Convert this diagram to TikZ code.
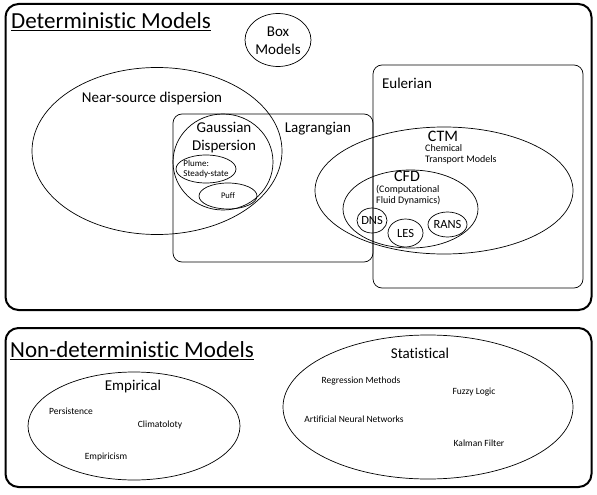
\documentclass[tikz,border=0pt]{standalone}
\usepackage{fontspec}
\setmainfont{Carlito}[Ligatures=NoCommon]
\usetikzlibrary{shapes.geometric}
\begin{document}
\begin{tikzpicture}[x=1pt,y=-1pt,
  ell/.style={draw, ellipse, inner sep=0pt, line width=0.7pt},
  rbox/.style={draw, rectangle, rounded corners=9pt, inner sep=0pt, line width=0.7pt},
  outerbox/.style={draw, rectangle, rounded corners=13pt, inner sep=0pt, line width=2pt},
  lbl/.style={inner sep=0pt, font=\fontsize{15}{18}\selectfont},
  big/.style={inner sep=0pt, font=\fontsize{23}{27}\selectfont},
  sm/.style={inner sep=0pt, font=\fontsize{9.5}{11}\selectfont},
  mid/.style={inner sep=0pt, font=\fontsize{10}{11}\selectfont, align=left},
  inner/.style={inner sep=0pt, font=\fontsize{12.5}{14}\selectfont},
  head/.style={inner sep=0pt, font=\fontsize{16}{18}\selectfont}
]
\useasboundingbox (0,0) rectangle (597,495);
% outer boxes
\node[outerbox, minimum width=586pt, minimum height=306pt] (det) at (298.5,157) {};
\node[outerbox, minimum width=586pt, minimum height=159pt] (nondet) at (298.5,407.5) {};
\node[big, anchor=west] (dett) at (11,22) {\underline{Deterministic Models}};
\node[big, anchor=west] (ndett) at (10,351) {\underline{Non-deterministic Models}};
% Box models
\node[ell, minimum width=66pt, minimum height=53pt] (box) at (278,40) {};
\node[lbl, align=center] (boxt) at (278,41) {Box\\[0pt]Models};
% Near-source
\node[ell, minimum width=250pt, minimum height=167pt] (near) at (157,151) {};
\node[lbl] (neart) at (152,99) {Near-source dispersion};
% Lagrangian
\node[rbox, minimum width=200pt, minimum height=148pt] (lag) at (273,188) {};
\node[lbl] (lagt) at (318,129) {Lagrangian};
% Eulerian
\node[rbox, minimum width=210pt, minimum height=223pt] (eul) at (478,176.5) {};
\node[lbl] (eult) at (407,83) {Eulerian};
% Gaussian
\node[ell, minimum width=100pt, minimum height=96pt] (gauss) at (223,162) {};
\node[lbl, align=center] (gausst) at (224,138) {Gaussian\\[0pt]Dispersion};
\node[ell, minimum width=60pt, minimum height=28pt] (plume) at (206,169) {};
\node[sm, align=left, font=\fontsize{9}{10}\selectfont] (plumet) at (206,169) {Plume:\\Steady-state};
\node[ell, minimum width=58pt, minimum height=26pt] (puff) at (228,196) {};
\node[sm, font=\fontsize{8.5}{10}\selectfont] (pufft) at (228,196) {Puff};
% CTM
\node[ell, minimum width=258pt, minimum height=127pt] (ctm) at (444,190.5) {};
\node[head] (ctmt) at (443,136) {CTM};
\node[mid, anchor=north west] (ctmd) at (425,144.5) {Chemical\\Transport Models};
% CFD
\node[ell, minimum width=135pt, minimum height=78pt] (cfd) at (410.5,209) {};
\node[head] (cfdt) at (407,176.5) {CFD};
\node[mid, anchor=north west] (cfdd) at (376,184.5) {(Computational\\Fluid Dynamics)};
\node[ell, minimum width=30pt, minimum height=25pt] (dns) at (372,220.5) {};
\node[inner] (dnst) at (372,220.5) {DNS};
\node[ell, minimum width=35pt, minimum height=28pt] (les) at (405.5,233) {};
\node[inner] (lest) at (405.5,233) {LES};
\node[ell, minimum width=39pt, minimum height=25pt] (rans) at (447.5,224.5) {};
\node[inner] (ranst) at (447.5,224.5) {RANS};
% Empirical
\node[ell, minimum width=212pt, minimum height=108pt] (emp) at (134,426) {};
\node[lbl] (empt) at (133,386) {Empirical};
\node[sm] (pers) at (71,411) {Persistence};
\node[sm] (clim) at (160,425) {Climatoloty};
\node[sm] (empi) at (106,457) {Empiricism};
% Statistical
\node[ell, minimum width=290pt, minimum height=144pt] (stat) at (428,407) {};
\node[lbl] (statt) at (420,353) {Statistical};
\node[sm] (reg) at (361,381) {Regression Methods};
\node[sm] (fuzzy) at (474,392) {Fuzzy Logic};
\node[sm] (ann) at (354,419) {Artificial Neural Networks};
\node[sm] (kal) at (479,443) {Kalman Filter};
\end{tikzpicture}
\end{document}
